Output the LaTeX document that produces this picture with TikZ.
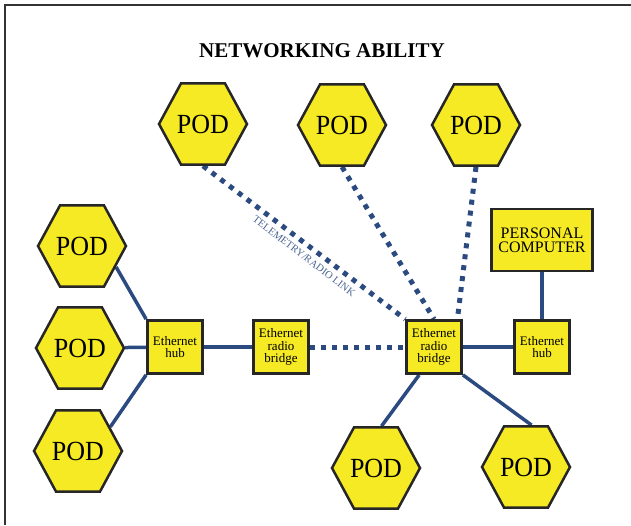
\documentclass[tikz,border=0pt]{standalone}
\usepackage{fontspec}
\setmainfont{Liberation Serif}
\usetikzlibrary{shapes.geometric,backgrounds}
\definecolor{linkblue}{RGB}{42,74,128}
\definecolor{podyellow}{RGB}{246,234,36}
\tikzset{
  pod node/.style={
    regular polygon,regular polygon sides=6,draw=black!85,fill=podyellow,
    line width=2.5pt,minimum size=88pt,inner sep=0pt,yscale=1.065,
    font=\fontsize{26}{26}\selectfont
  },
  eth box/.style={
    rectangle,draw=black!85,fill=podyellow,line width=2.8pt,
    minimum width=55pt,minimum height=53pt,inner sep=1pt,align=center,
    font=\fontsize{13}{12.3}\selectfont
  },
  wire/.style={linkblue,line width=3.5pt},
  radio wire/.style={linkblue,line width=5pt,dash pattern=on 5pt off 6pt}
}

\begin{document}
\begin{tikzpicture}[x=1pt,y=-1pt]
  \useasboundingbox (0,0) rectangle (631,525);
  \draw[black!80,line width=2pt] (5,525) -- (5,5) -- (631,5);
  \node[font=\bfseries\fontsize{21}{21}\selectfont,anchor=base] (title) at (322,57) {NETWORKING ABILITY};
  % pods
  \node[pod node] (pt1) at (203,124) {POD};
  \node[pod node] (pt2) at (342,125) {POD};
  \node[pod node] (pt3) at (476,125) {POD};
  \node[pod node] (pl1) at (82,246) {POD};
  \node[pod node] (pl2) at (80,348) {POD};
  \node[pod node] (pl3) at (78,451) {POD};
  \node[pod node] (pb1) at (376,468) {POD};
  \node[pod node] (pb2) at (526,467) {POD};
  % boxes
  \node[eth box] (hubl) at (175,347) {Ethernet\\hub};
  \node[eth box] (brl) at (281,347) {Ethernet\\radio\\bridge};
  \node[eth box] (brr) at (434,347) {Ethernet\\radio\\bridge};
  \node[eth box] (hubr) at (542,347) {Ethernet\\hub};
  \node[eth box,minimum width=101pt,minimum height=62pt,
    font=\fontsize{16}{14}\selectfont] (pc) at (542,240) {PERSONAL\\COMPUTER};
  \begin{scope}[on background layer]
    \draw[wire] (pl1.-30) -- (hubl.north west);
    \draw[wire] (pl2) -- (hubl);
    \draw[wire] (pl3.35) -- (hubl.south west);
    \draw[wire] (hubl) -- (brl);
    \draw[radio wire] (brl.east) -- (brr.west);
    \draw[radio wire] (pt1.south) -- (brr.north west);
    \draw[radio wire] (pt2.south) -- (brr.north);
    \draw[radio wire] (pt3.south) -- (brr.50);
    \draw[wire] (brr) -- (hubr);
    \draw[wire] (hubr) -- (pc);
    \draw[wire] (brr.-118) -- (pb1.82);
    \draw[wire] (brr.south east) -- (pb2.82);
  \end{scope}
  \node[text=linkblue!85,font=\fontsize{10.5}{10.5}\selectfont,rotate=-37.5] (tlink) at (304,256) {TELEMETRY/RADIO LINK};
\end{tikzpicture}
\end{document}
